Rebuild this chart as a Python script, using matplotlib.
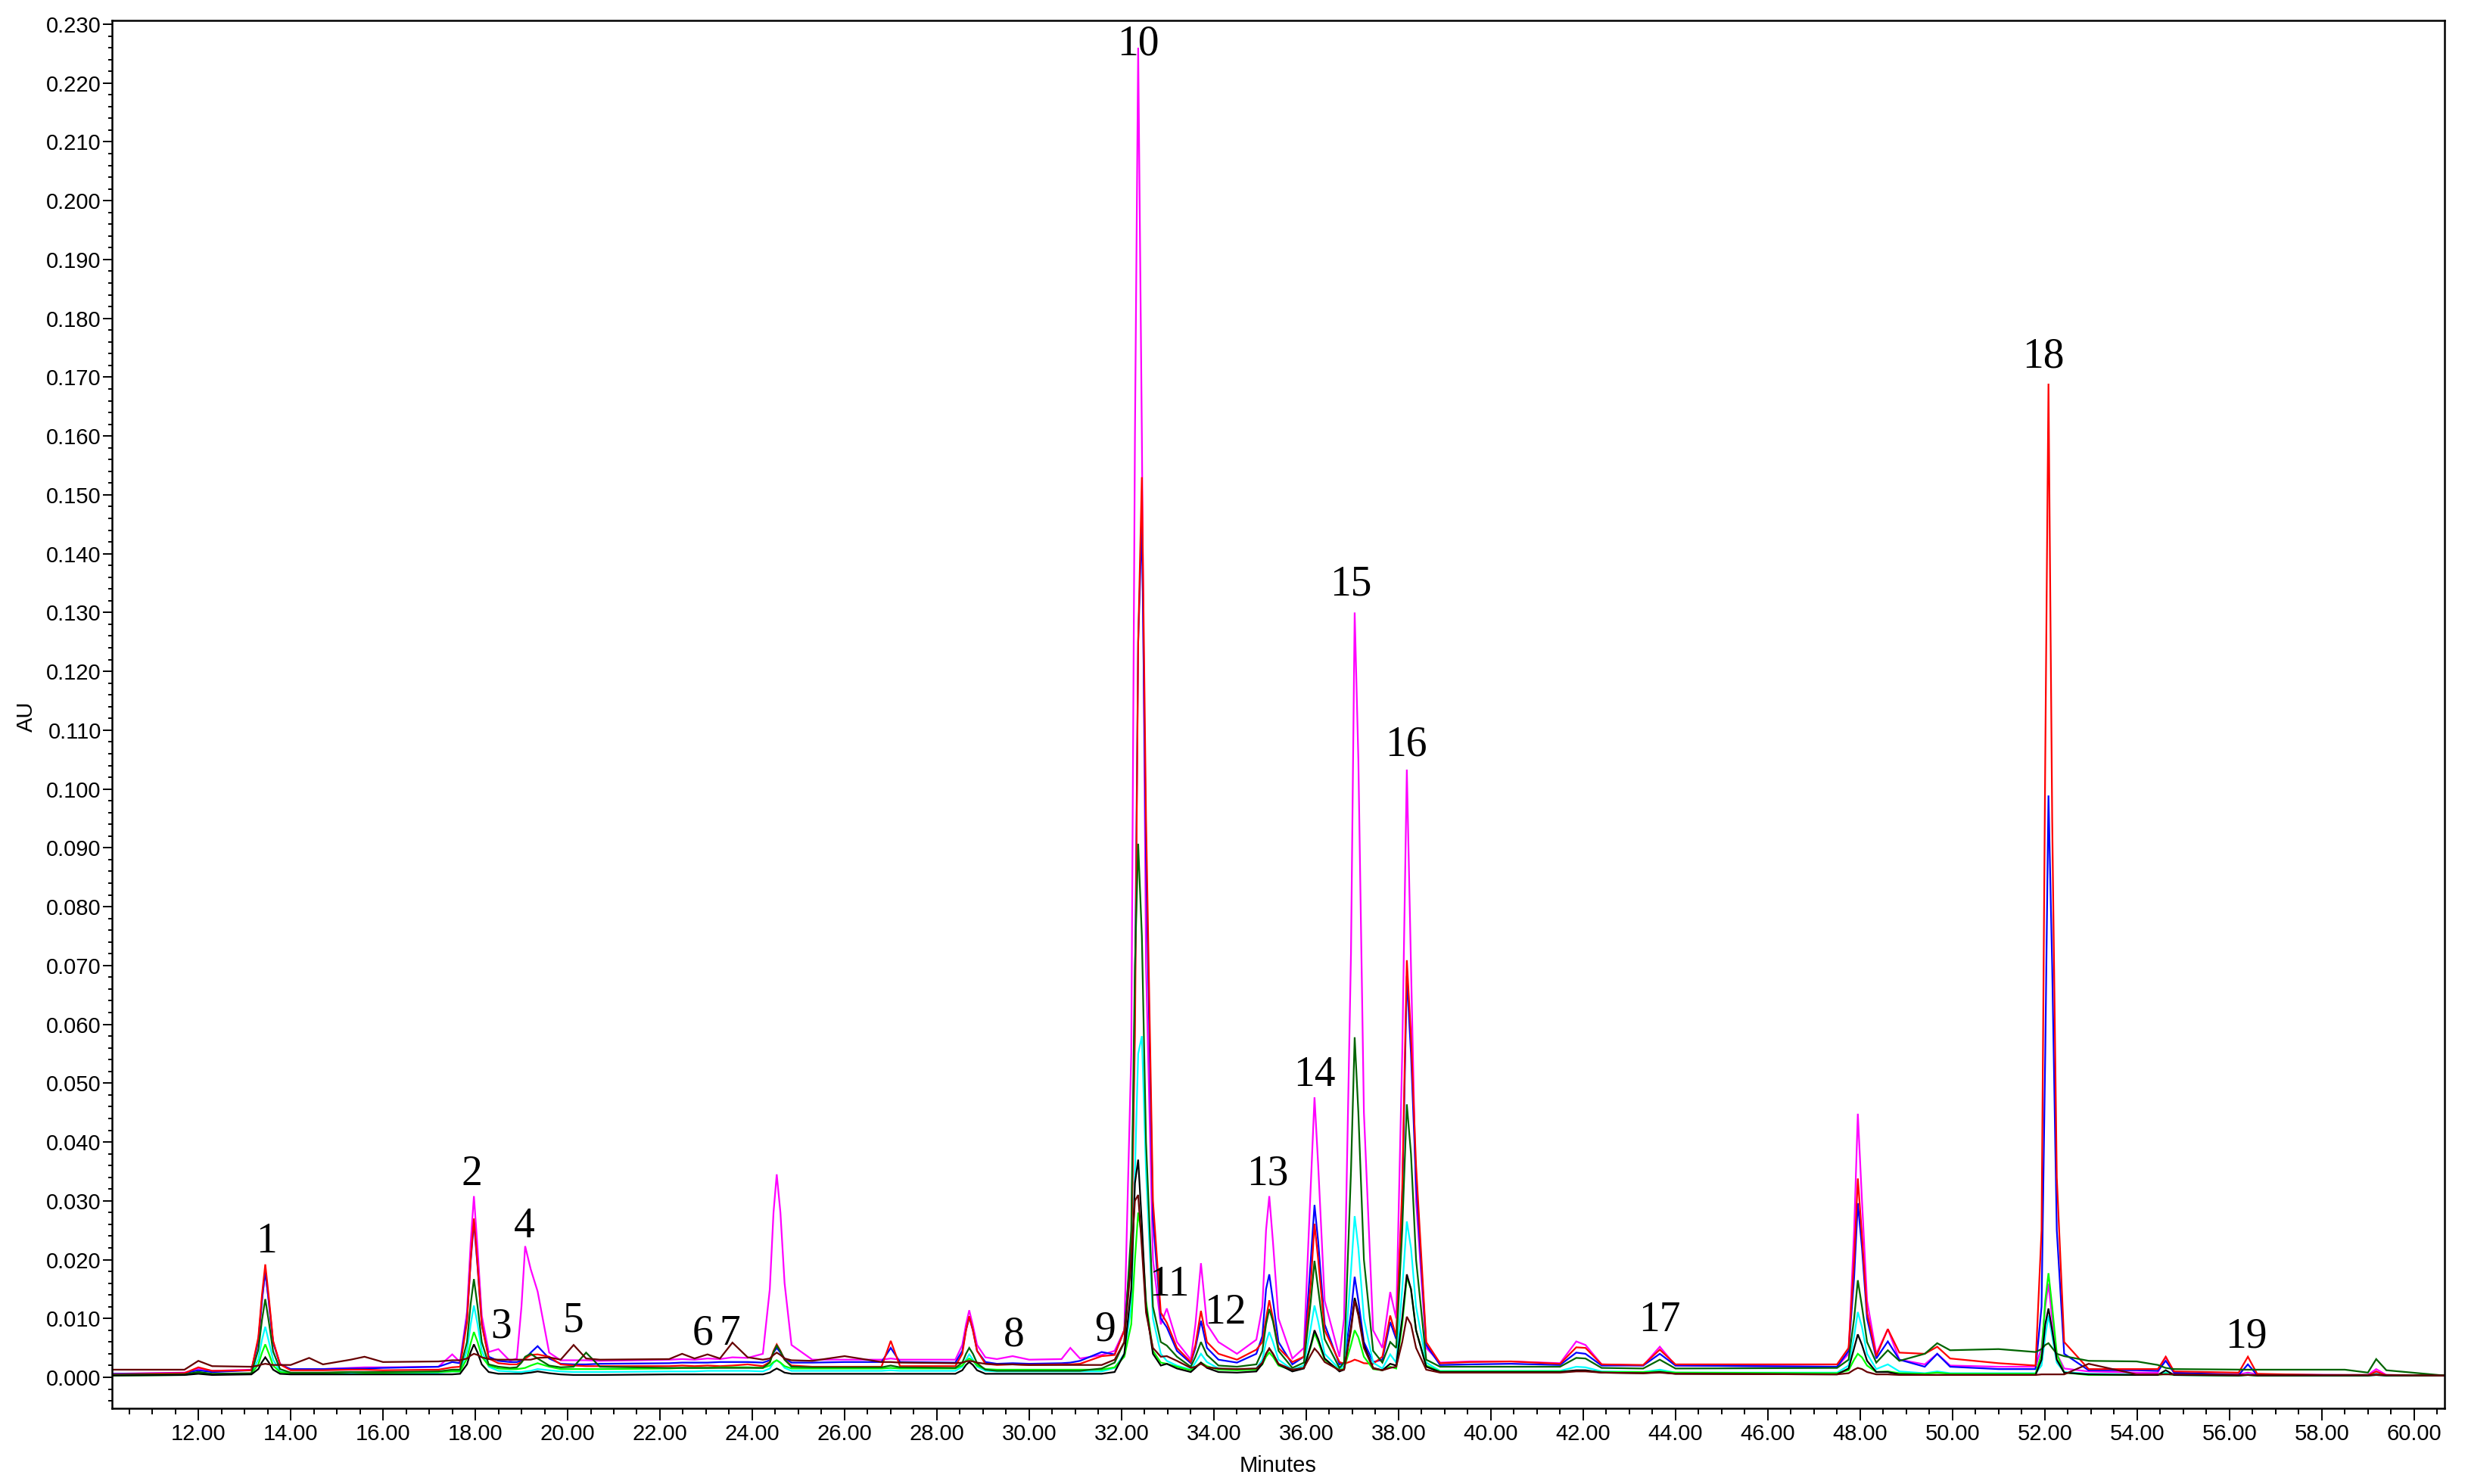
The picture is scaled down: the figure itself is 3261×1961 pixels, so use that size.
import matplotlib
matplotlib.use("Agg")
import matplotlib.pyplot as plt
from matplotlib.ticker import MultipleLocator, FormatStrFormatter
import numpy as np

# retention-time knots (minutes)
minutes = [10.13, 11.7, 12.0, 12.3, 13.15,
           13.30, 13.38, 13.45, 13.53, 13.62, 13.77,
           14.0, 14.4, 14.7, 15.3, 15.6, 16.0, 17.2, 17.5, 17.67,
           17.82, 17.90, 17.97, 18.05, 18.14, 18.29,
           18.5, 18.75, 18.9, 19.0, 19.08, 19.2, 19.35, 19.6, 19.85, 20.13, 20.4, 20.7,
           22.2, 22.48, 22.75, 23.03, 23.3, 23.57, 23.9,
           24.23, 24.38, 24.46, 24.53, 24.61, 24.7, 24.85,
           25.3, 26.0, 26.8, 27.0, 27.2, 28.4,
           28.55, 28.63, 28.7, 28.78, 28.87, 29.05,
           29.3, 29.64, 30.0, 30.7, 30.89, 31.1, 31.57, 31.85,
           32.06, 32.21, 32.29, 32.36, 32.44, 32.53, 32.68, 32.85,
           32.98, 33.2, 33.5, 33.6, 33.72, 33.85, 34.1, 34.5, 34.92,
           35.05, 35.13, 35.2, 35.28, 35.4, 35.7,
           35.95, 36.1, 36.18, 36.26, 36.4, 36.72,
           36.82, 36.97, 37.05, 37.13, 37.25, 37.45, 37.65,
           37.82, 37.95,
           38.08, 38.18, 38.27, 38.38, 38.6, 38.9,
           39.54, 40.44, 41.5, 41.85, 42.05, 42.4, 43.3, 43.66, 44.0,
           47.5, 47.75, 47.87, 47.95, 48.04, 48.15, 48.35,
           48.6, 48.85, 49.4, 49.67, 49.95, 51.0, 51.8,
           51.93, 52.01, 52.08, 52.16, 52.26, 52.42,
           52.95, 53.99, 54.45, 54.62, 54.8, 56.2, 56.4, 56.6, 58.5, 59.0, 59.18, 59.4, 60.66]

# absorbance of each sample, in mAU
magenta_mau = [0.6, 0.8, 1.5, 1.1, 1.3,
               6.3, 13.3, 18.0, 12.7, 6.0, 2.3,
               1.3, 1.3, 1.4, 1.6, 1.7, 1.7, 1.8, 3.9, 2.6,
               11.1, 22.9, 30.8, 21.8, 10.5, 4.3,
               4.8, 2.8, 3.2, 12.0, 22.3, 18.4, 14.6, 4.2, 2.9, 2.9, 2.9, 2.8,
               3.0, 3.1, 3.0, 3.2, 3.1, 3.4, 3.3,
               4.0, 15.0, 28.0, 34.5, 28.0, 16.0, 5.5,
               3.0, 3.0, 3.0, 3.2, 3.0, 3.0,
               5.5, 9.0, 11.4, 8.8, 5.5, 3.4,
               3.1, 3.6, 3.0, 3.1, 5.0, 3.2, 3.8, 4.5,
               8, 55, 160, 226, 160, 70, 20, 9,
               11.7, 6.0, 3.0, 9.0, 19.4, 9.0, 6.0, 4.0, 6.4,
               12, 25, 30.8, 23, 10, 3.2,
               5, 33, 47.6, 36, 13, 3.5,
               10, 72, 130, 105, 45, 8, 5,
               14.5, 10,
               55, 103.3, 70, 30, 5, 2.5,
               2.7, 2.7, 2.4, 6.1, 5.5, 2.2, 2.0, 5.2, 2.0,
               1.8, 4.0, 25, 44.8, 30, 13, 4.0,
               8.2, 3.0, 2.2, 4.0, 2.0, 1.8, 1.8,
               5, 12, 15.9, 10, 4, 1.5,
               1.0, 0.8, 0.8, 3.5, 0.7, 0.5, 0.8, 0.5, 0.4, 0.4, 1.4, 0.4, 0.3]

red_mau = [0.5, 0.7, 1.7, 1.1, 1.2,
           6.8, 14.1, 19.2, 13.4, 6.2, 2.2,
           1.2, 1.2, 1.2, 1.3, 1.3, 1.2, 1.3, 1.7, 1.8,
           9.4, 20.0, 27.0, 19.0, 9.0, 3.2,
           2.4, 2.2, 2.2, 2.6, 3.2, 3.8, 3.9, 3.5, 2.2, 2.0, 1.9, 1.9,
           1.9, 2.0, 1.9, 2.0, 1.9, 2.0, 2.2,
           1.9, 2.6, 4.5, 5.6, 4.5, 3.0, 2.0,
           1.8, 1.8, 1.8, 6.2, 1.9, 1.9,
           4.0, 8.0, 10.4, 8.0, 4.5, 2.3,
           2.1, 2.2, 2.1, 2.2, 2.2, 2.3, 3.6, 3.8,
           8, 20, 58, 125, 153, 95, 30, 11,
           9.3, 5.0, 2.6, 5.5, 11.3, 6.0, 4.0, 3.0, 4.7,
           6, 10, 13.1, 10, 5, 2.6,
           3.5, 16, 26.1, 20, 8, 2.6,
           2.3, 2.7, 3.0, 2.8, 2.4, 2.3, 3.5,
           10.5, 7.0,
           32, 70.9, 58, 36, 6, 2.4,
           2.6, 2.7, 2.3, 5.1, 5.0, 2.2, 2.1, 4.7, 2.2,
           2.2, 5, 20, 33.8, 24, 11, 3.6,
           8.2, 4.2, 4.0, 5.2, 3.2, 2.4, 2.0,
           25, 105, 168.9, 95, 34, 6,
           1.4, 1.4, 1.4, 3.5, 1.0, 0.8, 3.5, 0.6, 0.3, 0.3, 1.0, 0.3, 0.3]

blue_mau = [0.6, 0.7, 1.2, 0.9, 1.2,
            6.2, 13.2, 18.0, 12.6, 5.9, 2.2,
            1.4, 1.4, 1.4, 1.5, 1.5, 1.6, 1.8, 2.6, 2.4,
            10.0, 19.7, 26.4, 18.7, 9.0, 3.5,
            2.8, 2.6, 2.6, 2.8, 3.2, 4.2, 5.3, 3.2, 2.3, 2.2, 2.2, 2.3,
            2.4, 2.5, 2.5, 2.5, 2.6, 2.6, 2.6,
            2.5, 2.9, 4.2, 5.0, 4.2, 3.2, 2.5,
            2.5, 2.6, 2.6, 5.0, 2.6, 2.5,
            4.5, 8.0, 10.2, 8.0, 4.5, 2.6,
            2.3, 2.4, 2.3, 2.4, 2.5, 2.8, 4.3, 3.9,
            8, 22, 65, 125, 145.7, 88, 27, 10,
            8.5, 4.5, 2.4, 5.0, 9.6, 5.0, 3.0, 2.5, 4.0,
            7, 15, 17.5, 13, 6, 2.2,
            3.5, 20, 29.3, 23, 9, 2.2,
            2.5, 11, 17.1, 13, 6, 2.6, 3.0,
            9.4, 6.5,
            30, 68.2, 55, 33, 5.5, 2.1,
            2.2, 2.3, 2.1, 4.2, 4.0, 2.0, 2.0, 4.0, 2.0,
            1.8, 4.5, 17, 29.6, 22, 10, 3.2,
            6.1, 3.0, 1.8, 4.0, 1.8, 1.4, 1.4,
            12, 55, 98.9, 70, 25, 4,
            1.2, 1.2, 1.1, 2.8, 0.8, 0.4, 2.2, 0.4, 0.3, 0.3, 0.6, 0.3, 0.3]

cyan_mau = [0.4, 0.4, 0.9, 0.5, 0.6,
            3.1, 6.4, 8.6, 6.0, 3.0, 1.0,
            0.7, 0.7, 0.7, 0.8, 0.8, 0.7, 0.8, 1.0, 1.0,
            4.5, 9.0, 12.2, 9.0, 4.5, 1.8,
            1.1, 1.0, 0.9, 0.9, 1.0, 1.1, 1.4, 1.2, 1.0, 0.9, 0.9, 0.9,
            1.0, 1.0, 1.0, 1.1, 1.1, 1.1, 1.1,
            1.0, 1.5, 2.5, 2.9, 2.5, 1.6, 1.1,
            1.1, 1.1, 1.1, 1.2, 1.1, 1.1,
            1.8, 3.0, 3.9, 3.0, 1.8, 1.1,
            1.0, 1.0, 1.0, 1.0, 1.0, 1.0, 1.0, 1.6,
            4, 12, 35, 55, 58, 35, 10, 4,
            2.8, 2.0, 1.3, 2.5, 4.0, 2.6, 1.5, 1.3, 1.5,
            3, 6, 7.7, 6, 3, 1.3,
            2.0, 8.5, 12.2, 9.5, 4, 1.4,
            2, 18, 27.4, 22, 10, 2.5, 1.5,
            3.9, 2.5,
            15, 26.5, 22, 12, 2.5, 1.1,
            1.1, 1.1, 1.1, 1.8, 1.7, 1.0, 0.9, 1.3, 0.8,
            0.8, 2, 7, 11.1, 8.5, 4, 1.4,
            2.2, 1.0, 0.7, 1.0, 0.7, 0.7, 0.7,
            2, 7, 10.5, 7, 2.5, 0.9,
            0.6, 0.5, 0.5, 0.8, 0.4, 0.3, 0.5, 0.3, 0.3, 0.3, 0.4, 0.3, 0.3]

lime_mau = [0.3, 0.4, 0.9, 0.5, 0.6,
            2.2, 4.2, 5.6, 4.0, 2.0, 0.9,
            0.7, 0.7, 0.7, 0.9, 0.8, 0.8, 0.9, 1.0, 1.0,
            3.2, 5.8, 7.7, 6.0, 3.5, 2.0,
            1.5, 1.4, 1.4, 1.5, 1.6, 2.0, 2.4, 1.8, 1.4, 1.4, 1.4, 1.4,
            1.5, 1.6, 1.6, 1.6, 1.7, 1.7, 1.7,
            1.6, 2.0, 2.6, 2.9, 2.5, 1.9, 1.5,
            1.5, 1.5, 1.5, 1.6, 1.5, 1.5,
            2.0, 2.8, 3.2, 2.8, 2.0, 1.4,
            1.3, 1.3, 1.3, 1.3, 1.3, 1.3, 1.3, 1.7,
            3.5, 9, 20, 28, 24, 13, 4.5, 2.5,
            2.3, 1.8, 1.2, 1.8, 2.5, 1.9, 1.3, 1.2, 1.3,
            2.2, 3.5, 4.2, 3.5, 2.0, 1.2,
            1.6, 5.2, 7.5, 6.0, 3.0, 1.2,
            1.5, 5.5, 8.0, 6.8, 3.5, 1.4, 1.2,
            1.8, 1.5,
            9, 17, 15, 8, 2, 1.0,
            1.0, 1.0, 1.0, 1.1, 1.1, 0.9, 0.9, 1.0, 0.8,
            0.7, 1.2, 3.0, 4.0, 3.4, 2.0, 0.9,
            1.0, 0.7, 0.6, 0.8, 0.6, 0.6, 0.6,
            4, 13, 17.7, 12, 4, 0.8,
            0.4, 0.4, 0.4, 0.6, 0.4, 0.3, 0.4, 0.3, 0.3, 0.3, 0.5, 0.3, 0.3]

black_mau = [0.3, 0.4, 0.6, 0.4, 0.5,
             1.4, 2.6, 3.4, 2.5, 1.3, 0.6,
             0.5, 0.5, 0.5, 0.5, 0.5, 0.5, 0.5, 0.5, 0.6,
             2.2, 4.3, 5.6, 4.2, 2.2, 0.9,
             0.6, 0.6, 0.6, 0.6, 0.7, 0.8, 1.0, 0.7, 0.5, 0.4, 0.4, 0.4,
             0.5, 0.5, 0.5, 0.5, 0.5, 0.5, 0.5,
             0.5, 0.8, 1.2, 1.5, 1.2, 0.8, 0.6,
             0.6, 0.6, 0.6, 0.6, 0.6, 0.6,
             1.2, 2.1, 2.6, 2.1, 1.2, 0.6,
             0.6, 0.6, 0.6, 0.6, 0.6, 0.6, 0.6, 0.9,
             4, 15, 33, 37, 26, 12, 4, 2,
             2.3, 1.5, 0.9, 1.6, 2.5, 1.6, 0.9, 0.8, 1.0,
             2.3, 4.0, 4.9, 4.0, 2.2, 1.0,
             1.5, 5.5, 8.0, 6.5, 3.2, 1.0,
             1.3, 8.5, 13.5, 11, 5.5, 1.6, 1.2,
             2.3, 2.0,
             10, 17.5, 15, 8, 1.8, 0.9,
             0.9, 0.9, 0.9, 1.2, 1.2, 0.8, 0.7, 0.9, 0.6,
             0.5, 1.5, 5.0, 7.3, 5.5, 2.8, 0.9,
             0.9, 0.5, 0.4, 0.4, 0.4, 0.4, 0.4,
             3, 9, 11.7, 8, 3, 0.8,
             0.5, 0.4, 0.4, 1.2, 0.4, 0.3, 0.4, 0.3, 0.3, 0.3, 0.4, 0.3, 0.3]

darkgreen_mau = [0.4, 0.5, 0.9, 0.6, 0.7,
                 4.7, 9.8, 13.3, 9.3, 4.4, 1.4,
                 0.8, 0.8, 0.8, 0.9, 0.9, 0.9, 1.0, 1.3, 1.3,
                 6.0, 12.5, 16.7, 12.0, 6.0, 2.2,
                 1.8, 1.6, 1.7, 2.5, 3.5, 4.0, 3.2, 2.0, 1.7, 1.8, 4.2, 1.8,
                 1.6, 1.6, 1.6, 1.6, 1.6, 1.6, 1.6,
                 1.6, 2.5, 4.3, 5.4, 4.4, 3.0, 1.8,
                 1.7, 1.7, 1.7, 2.0, 1.7, 1.6,
                 2.5, 4.0, 5.0, 4.0, 2.4, 1.3,
                 1.1, 1.1, 1.1, 1.1, 1.1, 1.1, 1.5, 2.5,
                 6, 25, 70, 90.7, 75, 40, 12, 6,
                 5.4, 3.5, 1.8, 3.5, 6.0, 3.8, 2.0, 1.8, 2.2,
                 4.5, 9, 11.6, 9.5, 4.5, 1.6,
                 2.5, 13, 19.8, 15, 6.5, 1.6,
                 2.5, 35, 57.8, 45, 20, 4.5, 2.5,
                 6.0, 5.0,
                 25, 46.4, 38, 20, 3, 1.8,
                 1.8, 1.8, 1.8, 3.3, 3.2, 1.6, 1.5, 3.0, 1.5,
                 1.6, 3, 10, 16.5, 12, 6, 2.5,
                 4.6, 2.8, 4.0, 5.8, 4.6, 4.8, 4.3,
                 4.8, 5.5, 5.8, 5.0, 4.0, 3.6,
                 2.8, 2.7, 2.1, 1.6, 1.4, 1.3, 1.3, 1.3, 1.3, 0.8, 3.1, 1.2, 0.3]

brown_mau = [1.3, 1.3, 2.8, 1.9, 1.8,
             2.0, 2.2, 2.3, 2.2, 2.1, 2.1,
             2.1, 3.3, 2.2, 3.0, 3.5, 2.6, 2.7, 2.9, 2.9,
             3.2, 3.7, 4.0, 3.8, 3.4, 3.1,
             3.0, 3.0, 3.0, 3.0, 3.0, 3.0, 3.3, 3.4, 3.0, 5.5, 3.2, 3.0,
             3.1, 4.0, 3.2, 3.9, 3.2, 5.9, 3.4,
             3.0, 3.2, 3.8, 4.2, 3.8, 3.2, 2.9,
             2.8, 3.6, 2.6, 2.6, 2.5, 2.4,
             2.5, 2.7, 2.8, 2.7, 2.5, 2.3,
             2.2, 2.2, 2.1, 2.1, 2.1, 2.1, 2.1, 3.0,
             6, 20, 30, 31, 22, 11, 5, 3.5,
             3.6, 2.8, 1.6, 1.8, 2.3, 1.7, 1.5, 1.4, 1.5,
             2.5, 4.0, 4.9, 4.0, 2.3, 1.3,
             1.6, 3.8, 4.9, 4.2, 2.6, 1.2,
             1.3, 8, 13, 10.5, 5, 1.5, 1.2,
             1.6, 1.8,
             6, 10.3, 9, 5, 1.3, 0.8,
             0.8, 0.8, 0.8, 1.0, 1.0, 0.8, 0.7, 0.8, 0.6,
             0.5, 0.7, 1.3, 1.6, 1.4, 0.9, 0.5,
             0.5, 0.4, 0.4, 0.4, 0.4, 0.4, 0.4,
             0.5, 0.5, 0.5, 0.5, 0.5, 0.5,
             2.3, 0.5, 0.5, 0.5, 0.5, 0.4, 0.4, 0.4, 0.4, 0.4, 0.4, 0.4, 0.3]

# peak labels
peak_labels = ["1", "2", "3", "4", "5", "6", "7", "8", "9", "10",
               "11", "12", "13", "14", "15", "16", "17", "18", "19"]
label_minutes = [13.47, 17.93, 18.55, 19.06, 20.12, 22.93, 23.52, 29.67, 31.65, 32.36,
                 33.04, 34.24, 35.16, 36.18, 36.97, 38.16, 43.65, 51.97, 56.37]
label_au = [0.0230, 0.0345, 0.0085, 0.0256, 0.0096, 0.0074, 0.0074, 0.0072, 0.0080, 0.2266,
            0.0157, 0.0109, 0.0345, 0.0513, 0.1348, 0.1075, 0.0096, 0.1734, 0.0069]

W, H = 3262, 1961
fig = plt.figure(figsize=(W / 200, H / 200), dpi=200)
ax = fig.add_axes([148 / W, 1 - 1861 / H, (3230 - 148) / W, (1861 - 27) / H])

t = np.array(minutes)
series = [
    (magenta_mau, "#FF00FF"),
    (blue_mau, "#0000FF"),
    (red_mau, "#FF0000"),
    (cyan_mau, "#00FFFF"),
    (lime_mau, "#00FF00"),
    (darkgreen_mau, "#006400"),
    (black_mau, "#000000"),
    (brown_mau, "#660000"),
]
for vals, col in series:
    ax.plot(t, np.array(vals) / 1000.0, color=col, lw=0.8, solid_joinstyle="miter")

ax.set_xlim(10.13, 60.66)
ax.set_ylim(-0.00527, 0.23064)

tick_font = {"family": "Liberation Sans", "size": 10.5}
ax.xaxis.set_major_locator(MultipleLocator(2))
ax.xaxis.set_minor_locator(MultipleLocator(0.5))
ax.yaxis.set_major_locator(MultipleLocator(0.01))
ax.yaxis.set_minor_locator(MultipleLocator(0.002))
ax.xaxis.set_major_formatter(FormatStrFormatter("%.2f"))
ax.yaxis.set_major_formatter(FormatStrFormatter("%.3f"))
ax.tick_params(axis="x", which="major", direction="out", length=5.8, width=0.7, pad=1.5)
ax.tick_params(axis="x", which="minor", direction="out", length=2.9, width=0.7)
ax.tick_params(axis="y", which="major", direction="out", length=4.3, width=0.7, pad=0.8)
ax.tick_params(axis="y", which="minor", direction="out", length=1.8, width=0.7)
for lab in ax.get_xticklabels() + ax.get_yticklabels():
    lab.set_fontfamily("Liberation Sans")
    lab.set_fontsize(10.5)
for sp in ax.spines.values():
    sp.set_linewidth(0.9)

for s, x, y in zip(peak_labels, label_minutes, label_au):
    ax.text(x, y, s, ha="center", va="center", fontsize=20,
            family="Liberation Serif", color="black")

fig.text(35 / W, 1 - 947 / H, "AU", rotation=90, ha="center", va="center", **tick_font)
fig.text(1689 / W, 1 - 1937 / H, "Minutes", ha="center", va="center", **tick_font)

fig.savefig("out.png", dpi=200)
